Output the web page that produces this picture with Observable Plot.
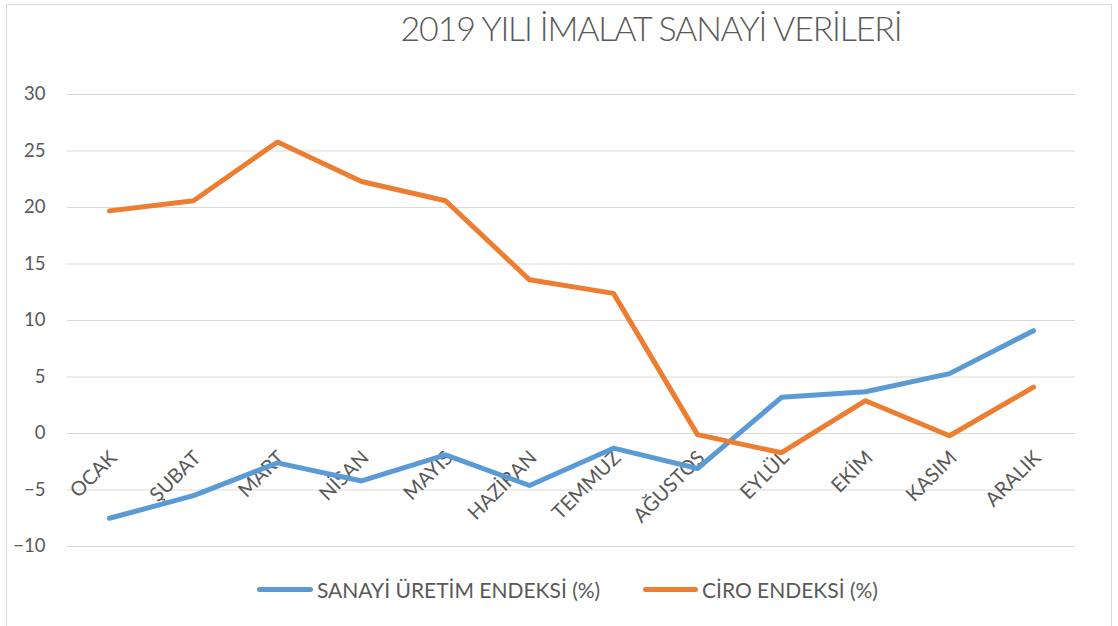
<!DOCTYPE html>
<html>
<head>
<meta charset="utf-8">
<script src="https://cdn.jsdelivr.net/npm/d3@7"></script>
<script src="https://cdn.jsdelivr.net/npm/@observablehq/plot@0.6"></script>
<style>
  html, body { margin: 0; padding: 0; background: #fff; }
  #frame { position: relative; width: 1118px; height: 626px; overflow: hidden; font-family: Lato, "Open Sans", sans-serif; color: #595959; }
  #border { position: absolute; left: 6px; top: 4px; width: 1106px; height: 640px; border: 1px solid #D9D9D9; box-sizing: border-box; }
  #title { position: absolute; left: 351px; width: 600px; top: 6px; text-align: center; font-size: 34px; line-height: 44px; font-weight: 300; color: #595959; letter-spacing: -1.2px; white-space: nowrap; }
  #chart { position: absolute; left: 0; top: 70px; }
  .leg { position: absolute; top: 577px; font-size: 21px; line-height: 26px; color: #595959; white-space: nowrap; }
  .sw { position: absolute; height: 5px; border-radius: 2.5px; top: 587px; }
</style>
</head>
<body>
<div id="frame">
  <div id="border"></div>
  <div id="title">2019 YILI İMALAT SANAYİ VERİLERİ</div>
  <div id="chart"></div>
  <div class="sw" style="left:257px;width:56px;background:#5B9BD5"></div>
  <div class="leg" style="left:317px">SANAYİ ÜRETİM ENDEKSİ (%)</div>
  <div class="sw" style="left:643px;width:55px;background:#ED7D31"></div>
  <div class="leg" style="left:702px">CİRO ENDEKSİ (%)</div>
</div>
<script>
const months = ["OCAK","ŞUBAT","MART","NİSAN","MAYIS","HAZİRAN","TEMMUZ","AĞUSTOS","EYLÜL","EKİM","KASIM","ARALIK"];
const sanayi = [-7.5, -5.5, -2.6, -4.2, -1.9, -4.6, -1.3, -3.1, 3.2, 3.7, 5.3, 9.1];
const ciro = [19.7, 20.6, 25.8, 22.3, 20.6, 13.6, 12.4, -0.1, -1.7, 2.9, -0.2, 4.1];
const yTicks = [-10, -5, 0, 5, 10, 15, 20, 25, 30];

const sData = months.map((m, i) => ({month: m, value: sanayi[i]}));
const cData = months.map((m, i) => ({month: m, value: ciro[i]}));

const chart = Plot.plot({
  width: 1118,
  height: 500,
  marginLeft: 67,
  marginRight: 43,
  marginTop: 24,
  marginBottom: 24,
  style: {fontFamily: "Lato, 'Open Sans', sans-serif", color: "#595959", background: "transparent"},
  x: {type: "point", domain: months, padding: 0.5, axis: null},
  y: {domain: [-10, 30], ticks: yTicks, grid: false, axis: null},
  marks: [
    Plot.ruleY(yTicks, {stroke: "#D9D9D9", strokeWidth: 1.2}),
    Plot.axisY({ticks: yTicks, tickSize: 0, tickPadding: 22, fontSize: 18.5, fill: "#595959", label: null}),
    Plot.text(months, {x: d => d, y: () => 0, text: d => d, rotate: -45, textAnchor: "end", dx: 4, dy: 21, fontSize: 20, fill: "#595959"}),
    Plot.line(sData, {x: "month", y: "value", stroke: "#5B9BD5", strokeWidth: 5, strokeLinecap: "round", strokeLinejoin: "round"}),
    Plot.line(cData, {x: "month", y: "value", stroke: "#ED7D31", strokeWidth: 5, strokeLinecap: "round", strokeLinejoin: "round"})
  ]
});
document.getElementById("chart").appendChild(chart);
</script>
</body>
</html>
